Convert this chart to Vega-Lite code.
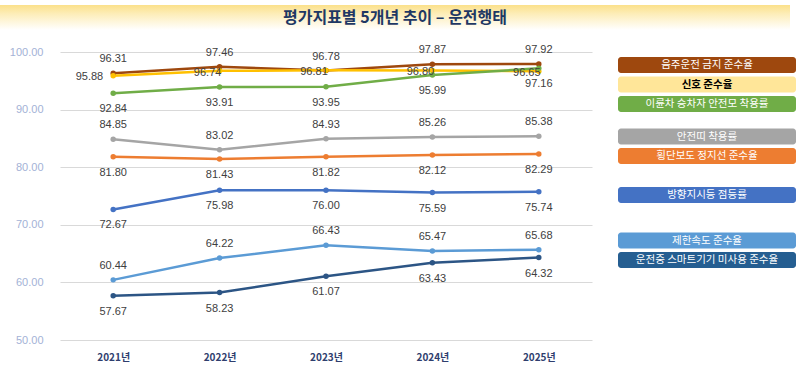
{
  "$schema": "https://vega.github.io/schema/vega-lite/v6.json",
  "padding": {"left": 0, "top": 5, "right": 0, "bottom": 0},
  "background": "white",
  "spacing": 13,
  "config": {"view": {"stroke": null}, "font": "Liberation Sans"},
  "datasets": {
    "trend": [
      {"year": "2021년", "series": "음주운전 금지 준수율", "value": 96.31},
      {"year": "2022년", "series": "음주운전 금지 준수율", "value": 97.46},
      {"year": "2023년", "series": "음주운전 금지 준수율", "value": 96.78},
      {"year": "2024년", "series": "음주운전 금지 준수율", "value": 97.87},
      {"year": "2025년", "series": "음주운전 금지 준수율", "value": 97.92},
      {"year": "2021년", "series": "신호 준수율", "value": 95.88},
      {"year": "2022년", "series": "신호 준수율", "value": 96.74},
      {"year": "2023년", "series": "신호 준수율", "value": 96.81},
      {"year": "2024년", "series": "신호 준수율", "value": 96.80},
      {"year": "2025년", "series": "신호 준수율", "value": 96.65},
      {"year": "2021년", "series": "이륜차 승차자 안전모 착용률", "value": 92.84},
      {"year": "2022년", "series": "이륜차 승차자 안전모 착용률", "value": 93.91},
      {"year": "2023년", "series": "이륜차 승차자 안전모 착용률", "value": 93.95},
      {"year": "2024년", "series": "이륜차 승차자 안전모 착용률", "value": 95.99},
      {"year": "2025년", "series": "이륜차 승차자 안전모 착용률", "value": 97.16},
      {"year": "2021년", "series": "안전띠 착용률", "value": 84.85},
      {"year": "2022년", "series": "안전띠 착용률", "value": 83.02},
      {"year": "2023년", "series": "안전띠 착용률", "value": 84.93},
      {"year": "2024년", "series": "안전띠 착용률", "value": 85.26},
      {"year": "2025년", "series": "안전띠 착용률", "value": 85.38},
      {"year": "2021년", "series": "횡단보도 정지선 준수율", "value": 81.80},
      {"year": "2022년", "series": "횡단보도 정지선 준수율", "value": 81.43},
      {"year": "2023년", "series": "횡단보도 정지선 준수율", "value": 81.82},
      {"year": "2024년", "series": "횡단보도 정지선 준수율", "value": 82.12},
      {"year": "2025년", "series": "횡단보도 정지선 준수율", "value": 82.29},
      {"year": "2021년", "series": "방향지시등 점등률", "value": 72.67},
      {"year": "2022년", "series": "방향지시등 점등률", "value": 75.98},
      {"year": "2023년", "series": "방향지시등 점등률", "value": 76.00},
      {"year": "2024년", "series": "방향지시등 점등률", "value": 75.59},
      {"year": "2025년", "series": "방향지시등 점등률", "value": 75.74},
      {"year": "2021년", "series": "제한속도 준수율", "value": 60.44},
      {"year": "2022년", "series": "제한속도 준수율", "value": 64.22},
      {"year": "2023년", "series": "제한속도 준수율", "value": 66.43},
      {"year": "2024년", "series": "제한속도 준수율", "value": 65.47},
      {"year": "2025년", "series": "제한속도 준수율", "value": 65.68},
      {"year": "2021년", "series": "운전중 스마트기기 미사용 준수율", "value": 57.67},
      {"year": "2022년", "series": "운전중 스마트기기 미사용 준수율", "value": 58.23},
      {"year": "2023년", "series": "운전중 스마트기기 미사용 준수율", "value": 61.07},
      {"year": "2024년", "series": "운전중 스마트기기 미사용 준수율", "value": 63.43},
      {"year": "2025년", "series": "운전중 스마트기기 미사용 준수율", "value": 64.32}
    ],
    "legendItems": [
      {"series": "음주운전 금지 준수율"},
      {"series": "신호 준수율"},
      {"series": "이륜차 승차자 안전모 착용률"},
      {"series": "안전띠 착용률"},
      {"series": "횡단보도 정지선 준수율"},
      {"series": "방향지시등 점등률"},
      {"series": "제한속도 준수율"},
      {"series": "운전중 스마트기기 미사용 준수율"}
    ]
  },
  "vconcat": [
    {
      "width": 790,
      "height": 25,
      "view": {"stroke": null, "fill": {"gradient": "linear", "x1": 0, "y1": 0, "x2": 0, "y2": 1, "stops": [{"offset": 0, "color": "#FBE08A"}, {"offset": 0.35, "color": "#FDEDB8"}, {"offset": 1, "color": "#FFFFFF"}]}},
      "data": {"values": [{"title": "평가지표별 5개년 추이 – 운전행태"}]},
      "mark": {"type": "text", "font": "Noto Sans CJK KR", "fontWeight": "bold", "fontSize": 16, "color": "#1F3864"},
      "encoding": {"text": {"field": "title"}}
    },
    {
      "hconcat": [
        {
          "width": 43,
          "height": 288,
          "data": {"name": "trend"},
          "mark": {"type": "point", "opacity": 0},
          "encoding": {
            "y": {"field": "value", "type": "quantitative", "scale": {"domain": [50, 100], "nice": false, "zero": false},
                  "axis": {"orient": "right", "title": null, "values": [50, 60, 70, 80, 90, 100], "format": ".2f", "ticks": false, "domain": false, "grid": false, "labelAlign": "right", "labelPadding": 0, "labelColor": "#A3B2D6", "labelFontSize": 11}}
          }
        },
        {
          "hconcat": [
            {
              "width": 532,
              "height": 288,
              "data": {"name": "trend"},
              "encoding": {
                "x": {"field": "year", "type": "ordinal", "scale": {"type": "point", "padding": 0.5},
                      "axis": {"title": null, "ticks": false, "domain": false, "grid": false, "labelAngle": 0, "labelPadding": 12, "labelColor": "#2F3E6E", "labelFontWeight": "bold", "labelFont": "Noto Sans CJK KR", "labelFontSize": 10}},
                "y": {"field": "value", "type": "quantitative", "scale": {"domain": [50, 100], "nice": false, "zero": false},
                      "axis": {"title": null, "values": [50, 60, 70, 80, 90, 100], "labels": false, "ticks": false, "domain": false, "gridColor": "#D9D9D9", "minExtent": 0, "maxExtent": 0}}
              },
              "layer": [
                {
                  "mark": {"type": "line", "strokeWidth": 2.5, "point": {"filled": true, "size": 30}},
                  "encoding": {
                    "color": {"field": "series", "type": "nominal", "legend": null,
                      "scale": {"domain": ["음주운전 금지 준수율", "신호 준수율", "이륜차 승차자 안전모 착용률", "안전띠 착용률", "횡단보도 정지선 준수율", "방향지시등 점등률", "제한속도 준수율", "운전중 스마트기기 미사용 준수율"],
                                "range": ["#9E480E", "#FFC000", "#70AD47", "#A5A5A5", "#ED7D31", "#4472C4", "#5B9BD5", "#2C5585"]}}
                  }
                },
                {
                  "transform": [{"filter": {"field": "series", "oneOf": ["음주운전 금지 준수율", "안전띠 착용률", "제한속도 준수율"]}}],
                  "mark": {"type": "text", "dy": -14, "fontSize": 11, "color": "#404040"},
                  "encoding": {"text": {"field": "value", "type": "quantitative", "format": ".2f"}}
                },
                {
                  "transform": [{"filter": {"field": "series", "oneOf": ["이륜차 승차자 안전모 착용률", "횡단보도 정지선 준수율", "방향지시등 점등률", "운전중 스마트기기 미사용 준수율"]}}],
                  "mark": {"type": "text", "dy": 16, "fontSize": 11, "color": "#404040"},
                  "encoding": {"text": {"field": "value", "type": "quantitative", "format": ".2f"}}
                },
                {
                  "transform": [{"filter": {"field": "series", "equal": "신호 준수율"}}, {"filter": {"field": "year", "equal": "2021년"}}],
                  "mark": {"type": "text", "align": "right", "dx": -10, "dy": 1, "fontSize": 11, "color": "#404040"},
                  "encoding": {"text": {"field": "value", "type": "quantitative", "format": ".2f"}}
                },
                {
                  "transform": [{"filter": {"field": "series", "equal": "신호 준수율"}}, {"filter": {"field": "year", "oneOf": ["2022년", "2023년", "2024년", "2025년"]}}],
                  "mark": {"type": "text", "dx": -12, "dy": 2, "fontSize": 11, "color": "#404040"},
                  "encoding": {"text": {"field": "value", "type": "quantitative", "format": ".2f"}}
                }
              ]
            },
            {
              "width": 178,
              "height": 208,
              "data": {"name": "legendItems"},
              "encoding": {
                "y": {"field": "series", "type": "nominal", "axis": null,
                      "scale": {"type": "point", "padding": 0,
                                "domain": ["p0", "p1", "음주운전 금지 준수율", "p3", "p4", "신호 준수율", "p6", "p7", "이륜차 승차자 안전모 착용률", "p9", "p10", "p11", "p12", "안전띠 착용률", "p14", "p15", "횡단보도 정지선 준수율", "p17", "p18", "p19", "p20", "p21", "방향지시등 점등률", "p23", "p24", "p25", "p26", "p27", "p28", "제한속도 준수율", "p30", "p31", "운전중 스마트기기 미사용 준수율"]}}
              },
              "layer": [
                {
                  "mark": {"type": "bar", "height": 16, "cornerRadius": 3},
                  "encoding": {
                    "x": {"datum": 0, "type": "quantitative", "scale": {"domain": [0, 1]}, "axis": null},
                    "x2": {"datum": 1},
                    "color": {"field": "series", "type": "nominal", "legend": null,
                      "scale": {"domain": ["음주운전 금지 준수율", "신호 준수율", "이륜차 승차자 안전모 착용률", "안전띠 착용률", "횡단보도 정지선 준수율", "방향지시등 점등률", "제한속도 준수율", "운전중 스마트기기 미사용 준수율"],
                                "range": ["#9E480E", "#FFE699", "#70AD47", "#A5A5A5", "#ED7D31", "#4472C4", "#5B9BD5", "#255E91"]}}
                  }
                },
                {
                  "transform": [{"filter": {"field": "series", "equal": "신호 준수율"}}],
                  "mark": {"type": "text", "font": "Noto Sans CJK KR", "fontWeight": "bold", "fontSize": 10.5, "color": "#000000"},
                  "encoding": {"x": {"datum": 0.5, "type": "quantitative", "scale": {"domain": [0, 1]}, "axis": null}, "text": {"field": "series"}}
                },
                {
                  "transform": [{"filter": {"field": "series", "oneOf": ["음주운전 금지 준수율", "이륜차 승차자 안전모 착용률", "안전띠 착용률", "횡단보도 정지선 준수율", "방향지시등 점등률", "제한속도 준수율", "운전중 스마트기기 미사용 준수율"]}}],
                  "mark": {"type": "text", "font": "Noto Sans CJK KR", "fontSize": 10.5, "color": "#FFFFFF"},
                  "encoding": {"x": {"datum": 0.5, "type": "quantitative", "scale": {"domain": [0, 1]}, "axis": null}, "text": {"field": "series"}}
                }
              ]
            }
          ],
          "spacing": 26,
          "resolve": {"scale": {"color": "independent"}}
        }
      ],
      "spacing": 17
    }
  ]
}
